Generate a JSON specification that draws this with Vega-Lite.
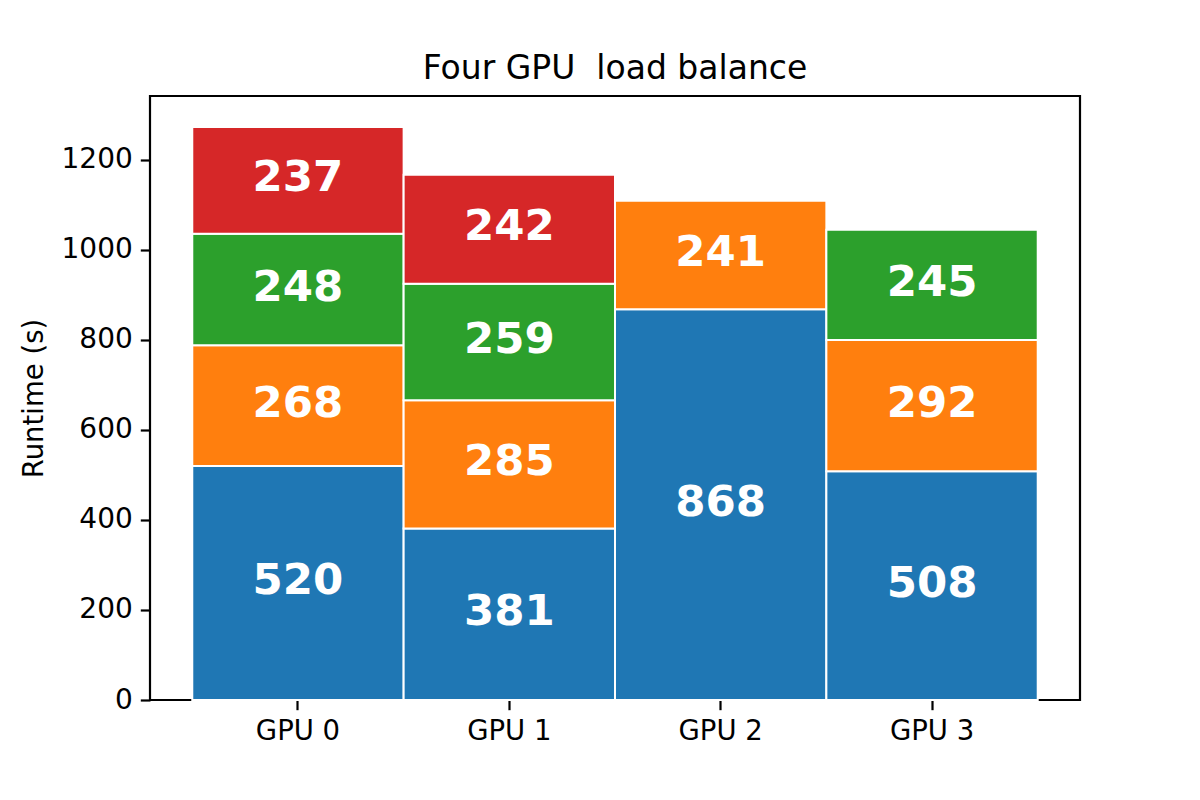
{
  "$schema": "https://vega.github.io/schema/vega-lite/v6.json",
  "width": 930,
  "height": 604,
  "autosize": "none",
  "padding": {"left": 150, "top": 96, "right": 120, "bottom": 100},
  "background": "white",
  "title": {"text": "Four GPU\u00a0 load balance", "font": "DejaVu Sans", "fontSize": 33, "fontWeight": "normal", "color": "black", "offset": 10, "anchor": "middle"},
  "config": {
    "view": {"stroke": "black", "strokeWidth": 2.2},
    "font": "DejaVu Sans"
  },
  "data": {"values": [
    {"gpu": "GPU 0", "part": "Task 1", "order": 1, "value": 520},
    {"gpu": "GPU 0", "part": "Task 2", "order": 2, "value": 268},
    {"gpu": "GPU 0", "part": "Task 3", "order": 3, "value": 248},
    {"gpu": "GPU 0", "part": "Task 4", "order": 4, "value": 237},
    {"gpu": "GPU 1", "part": "Task 1", "order": 1, "value": 381},
    {"gpu": "GPU 1", "part": "Task 2", "order": 2, "value": 285},
    {"gpu": "GPU 1", "part": "Task 3", "order": 3, "value": 259},
    {"gpu": "GPU 1", "part": "Task 4", "order": 4, "value": 242},
    {"gpu": "GPU 2", "part": "Task 1", "order": 1, "value": 868},
    {"gpu": "GPU 2", "part": "Task 2", "order": 2, "value": 241},
    {"gpu": "GPU 3", "part": "Task 1", "order": 1, "value": 508},
    {"gpu": "GPU 3", "part": "Task 2", "order": 2, "value": 292},
    {"gpu": "GPU 3", "part": "Task 3", "order": 3, "value": 245}
  ]},
  "transform": [
    {"stack": "value", "groupby": ["gpu"], "sort": [{"field": "order"}], "as": ["y0", "y1"]},
    {"calculate": "(datum.y0 + datum.y1) / 2", "as": "ymid"}
  ],
  "encoding": {
    "x": {
      "field": "gpu", "type": "nominal", "sort": ["GPU 0", "GPU 1", "GPU 2", "GPU 3"],
      "scale": {"paddingInner": 0, "paddingOuter": 0.2},
      "axis": {"title": null, "labelAngle": 0, "labelFont": "DejaVu Sans", "labelFontSize": 27.5, "labelColor": "black", "tickColor": "black", "tickSize": 9.7, "tickWidth": 2.2, "labelPadding": 8, "domain": false}
    }
  },
  "layer": [
    {
      "mark": {"type": "bar", "stroke": "white", "strokeWidth": 2, "opacity": 1},
      "encoding": {
        "y": {"field": "y0", "type": "quantitative",
          "scale": {"domain": [0, 1342], "nice": false, "zero": true},
          "axis": {"title": "Runtime (s)", "format": "d", "titleFont": "DejaVu Sans", "titleFontSize": 27.5, "titleFontWeight": "normal", "titleColor": "black", "titlePadding": 13, "values": [0, 200, 400, 600, 800, 1000, 1200], "grid": false, "labelFont": "DejaVu Sans", "labelFontSize": 28, "labelColor": "black", "tickColor": "black", "tickSize": 9.7, "tickWidth": 2.2, "labelPadding": 8, "domain": false}},
        "y2": {"field": "y1"},
        "color": {"field": "part", "type": "nominal", "legend": null,
          "scale": {"domain": ["Task 1", "Task 2", "Task 3", "Task 4"], "range": ["#1f77b4", "#ff7f0e", "#2ca02c", "#d62728"]}}
      }
    },
    {
      "mark": {"type": "text", "color": "white", "font": "DejaVu Sans", "fontSize": 43.5, "fontWeight": "bold", "baseline": "middle", "align": "center", "dy": -2},
      "encoding": {
        "y": {"field": "ymid", "type": "quantitative"},
        "text": {"field": "value", "type": "quantitative"}
      }
    }
  ]
}
